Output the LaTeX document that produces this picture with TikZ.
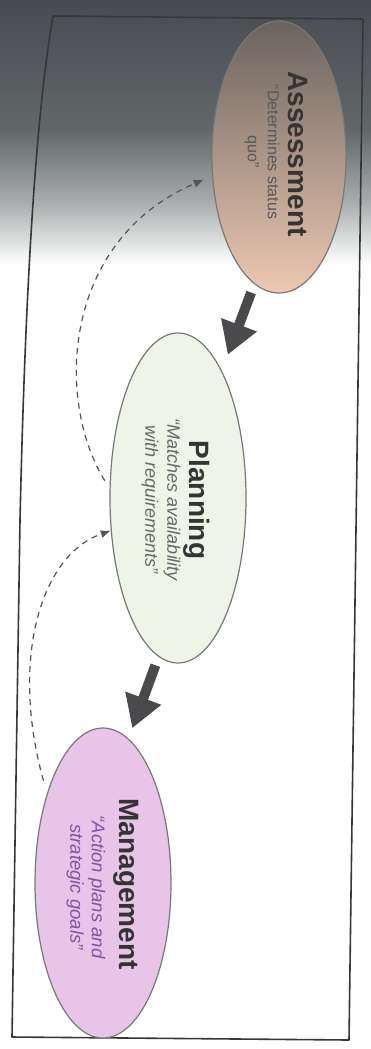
\documentclass[tikz,border=0pt]{standalone}
\usepackage{fontspec}
\setmainfont{Liberation Sans}
\usetikzlibrary{arrows.meta,shapes.geometric}
\definecolor{bgA}{RGB}{72,74,80}
\definecolor{bgB}{RGB}{98,104,106}
\definecolor{bgC}{RGB}{172,176,176}
\definecolor{assTop}{RGB}{106,99,94}
\definecolor{assBot}{RGB}{238,200,178}
\definecolor{planFill}{RGB}{238,244,230}
\definecolor{mgmtFill}{RGB}{232,196,232}
\definecolor{mgmtText}{RGB}{128,84,160}
\definecolor{titleCol}{RGB}{52,52,52}
\begin{document}
\begin{tikzpicture}[x=1pt,y=-1pt,
  ell/.style={ellipse, draw={rgb,255:red,120;green,120;blue,120}, line width=1.2pt, inner sep=0pt},
  ttl/.style={rotate=-90, inner sep=0pt, text=titleCol, font=\fontsize{28}{30}\selectfont\bfseries},
  sub/.style={rotate=-90, inner sep=0pt, align=center},
  bigarrow/.style={line width=10pt, draw={rgb,255:red,74;green,74;blue,76}, -{Triangle[width=36pt,length=32pt]}},
  backloop/.style={dash pattern=on 6pt off 5pt, line width=1.2pt, draw={rgb,255:red,85;green,85;blue,85}, -{Latex[length=10pt,width=8pt]}}]
\useasboundingbox (0,0) rectangle (371,1049);
% background (photo shadow)
\fill[white] (0,0) rectangle (371,1049);
\shade[top color=bgA, bottom color=bgB] (0,0) rectangle (371,131);
\shade[top color=bgB, bottom color=bgC] (0,130) rectangle (371,206);
\shade[top color=bgC, bottom color=white] (0,205) rectangle (371,265);
% page frame
\draw[line width=1.6pt, draw={rgb,255:red,55;green,55;blue,55}, line join=round]
  (53,16) -- (363,19) -- (349,1040) -- (12,1037) -- (20,520)
  .. controls (25,300) and (35,120) .. (53,16) -- cycle;
% ellipses
\node[ell, minimum width=134pt, minimum height=272pt, top color=assTop, bottom color=assBot] (A) at (279,157) {};
\node[ell, minimum width=136pt, minimum height=330pt, fill=planFill] (P) at (178,498) {};
\node[ell, minimum width=136pt, minimum height=310pt, fill=mgmtFill] (M) at (103,883) {};
% texts
\node[ttl] (At) at (298,154) {Assessment};
\node[sub, font=\fontsize{16}{20}\selectfont, text={rgb,255:red,88;green,88;blue,88}] (As) at (262,152) {“Determines status\\ quo”};
\node[ttl] (Pt) at (197,500) {Planning};
\node[sub, font=\fontsize{18}{22}\selectfont\itshape, text={rgb,255:red,104;green,104;blue,104}] (Ps) at (161,500) {“Matches availability\\ with requirements”};
\node[ttl] (Mt) at (126,884) {Management};
\node[sub, font=\fontsize{18.5}{21.5}\selectfont\itshape, text=mgmtText] (Ms) at (86,887) {“Action plans and\\ strategic goals”};
% main flow arrows
\draw[bigarrow, shorten <=9pt, shorten >=17pt] (A.-101) -- (P.71);
\draw[bigarrow, shorten <=9pt, shorten >=11pt] (P.-97) -- (M.80);
% feedback loops
\draw[backloop, shorten <=13pt] (M.122) .. controls (10,660) and (40,555) .. (P.-154);
\draw[backloop, shorten <=9pt, shorten >=9pt] (P.172) .. controls (55,400) and (62,240) .. (A.-164);
\end{tikzpicture}
\end{document}
